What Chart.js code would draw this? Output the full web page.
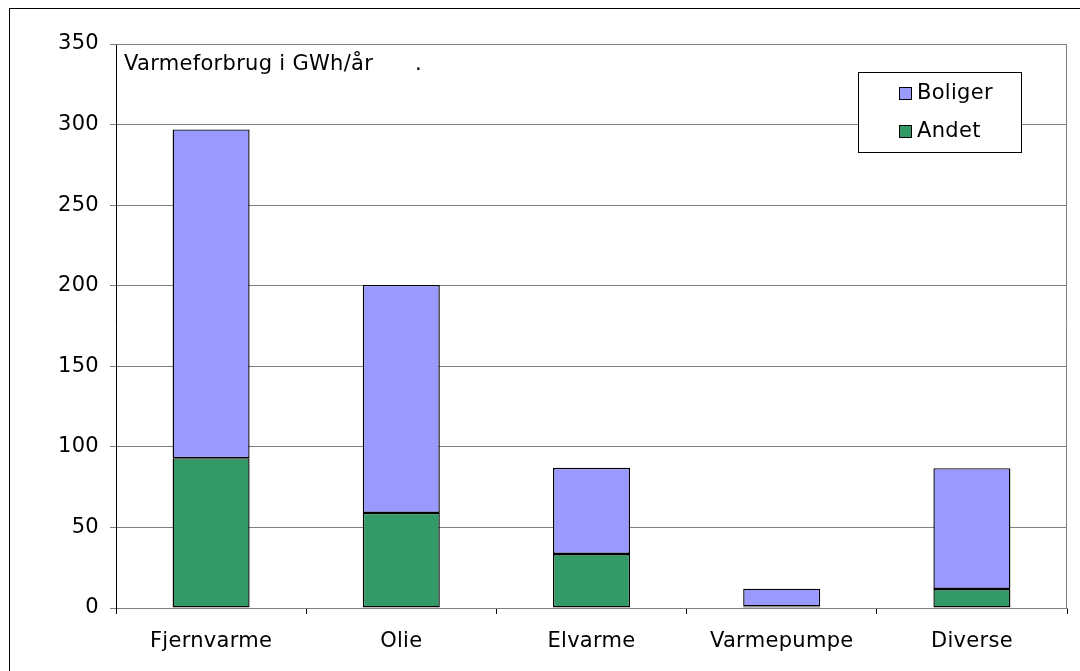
<!DOCTYPE html>
<html>
<head>
<meta charset="utf-8">
<script src="https://cdn.jsdelivr.net/npm/chart.js@4/dist/chart.umd.min.js"></script>
<style>
body{margin:0;background:#fff;overflow:hidden;}
#frame{position:absolute;left:9px;top:8px;width:1100px;height:700px;border:1.5px solid #000;}
#wrap{position:absolute;left:0;top:0;width:1080px;height:671px;}
</style>
</head>
<body>
<div id="frame"></div>
<div id="wrap"><canvas id="c" width="1080" height="671"></canvas></div>
<script>
var categories = ['Fjernvarme', 'Olie', 'Elvarme', 'Varmepumpe', 'Diverse'];
var andet = [93, 59, 33.5, 1, 11.8];
var boliger = [204, 141.5, 53.5, 11, 75];
var yTicks = [0, 50, 100, 150, 200, 250, 300, 350];
var titleText = 'Varmeforbrug i GWh/år      .';

var FONT = 'Verdana, "DejaVu Sans", sans-serif';
var FS = 21;
var SPACING = '0.3px';

function spaced(chart){ chart.ctx.letterSpacing = SPACING; }

// legend + title + plot frame drawn by hand
var extras = {
  id: 'extras',
  beforeInit: spaced,
  beforeUpdate: spaced,
  beforeLayout: spaced,
  beforeDraw: spaced,
  afterDraw: function(chart){
    var ctx = chart.ctx, a = chart.chartArea;
    ctx.save();
    ctx.strokeStyle = '#808080';
    ctx.lineWidth = 1;
    ctx.beginPath();
    ctx.moveTo(a.left, a.top + 0.5);
    ctx.lineTo(a.right - 0.5, a.top + 0.5);
    ctx.lineTo(a.right - 0.5, a.bottom);
    ctx.stroke();

    ctx.fillStyle = '#000';
    ctx.font = FS + 'px ' + FONT;
    ctx.textBaseline = 'middle';
    ctx.textAlign = 'left';
    ctx.fillText(titleText, 124, 65);

    // legend box
    ctx.fillStyle = '#fff';
    ctx.fillRect(858.5, 72.5, 163, 80);
    ctx.strokeStyle = '#000';
    ctx.strokeRect(858.5, 72.5, 163, 80);
    var items = [chart.data.datasets[1], chart.data.datasets[0]];
    items.forEach(function(ds, i){
      var y = 94 + i * 38;
      ctx.fillStyle = ds.backgroundColor;
      ctx.fillRect(899.5, y - 6.5, 12, 12);
      ctx.strokeStyle = '#000';
      ctx.strokeRect(899.5, y - 6.5, 12, 12);
      ctx.fillStyle = '#000';
      ctx.fillText(ds.label, 917, y);
    });
    ctx.restore();
  }
};

new Chart(document.getElementById('c'), {
  type: 'bar',
  data: {
    labels: categories,
    datasets: [
      {label: 'Andet', data: andet, backgroundColor: '#339966', borderColor: '#000', borderWidth: 1.4, borderSkipped: false},
      {label: 'Boliger', data: boliger, backgroundColor: '#9999FF', borderColor: '#000', borderWidth: 1.4, borderSkipped: false}
    ]
  },
  options: {
    responsive: false,
    animation: false,
    layout: {padding: {top: 44, right: 13, left: 0, bottom: 0}},
    plugins: {legend: {display: false}, tooltip: {enabled: false}},
    datasets: {bar: {categoryPercentage: 1, barPercentage: 0.405}},
    scales: {
      x: {
        stacked: true,
        grid: {drawOnChartArea: false, drawTicks: true, tickLength: 6, color: '#000', offset: true},
        border: {display: true, color: '#808080', width: 1},
        ticks: {color: '#000', font: {family: FONT, size: FS}, padding: 15, maxRotation: 0},
        afterFit: function(s){ s.height = 63; }
      },
      y: {
        stacked: true,
        min: 0, max: 350,
        afterBuildTicks: function(s){ s.ticks = yTicks.map(function(v){ return {value: v}; }); },
        grid: {color: '#808080', tickLength: 6, drawTicks: true},
        border: {display: true, color: '#000', width: 1},
        ticks: {color: '#000', font: {family: FONT, size: FS}, padding: 11},
        afterFit: function(s){ s.width = 116; }
      }
    }
  },
  plugins: [extras]
});
</script>
</body>
</html>
